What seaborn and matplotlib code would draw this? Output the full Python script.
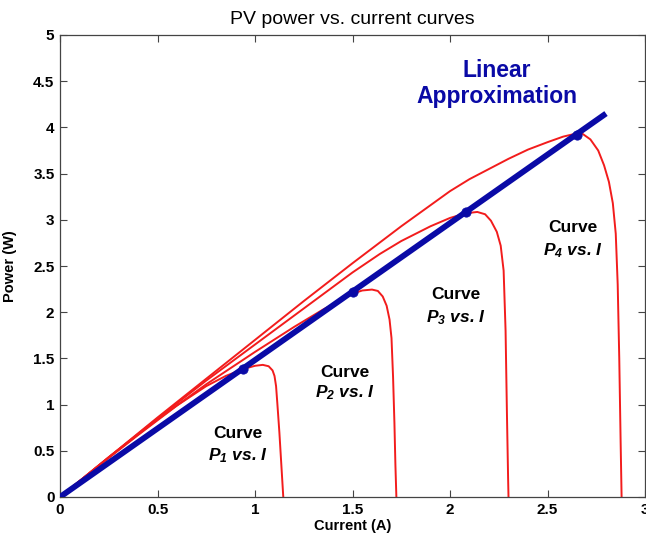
# plot.py
import matplotlib
matplotlib.use('Agg')
import matplotlib.pyplot as plt
import seaborn as sns

# values
current_p1 = [0, 0.2, 0.4, 0.6, 0.75, 0.85, 0.94, 1.0, 1.04, 1.07, 1.09, 1.10, 1.108, 1.115, 1.125, 1.135, 1.145]
power_p1 = [0, 0.34, 0.67, 0.99, 1.20, 1.31, 1.385, 1.42, 1.43, 1.415, 1.37, 1.31, 1.20, 1.00, 0.70, 0.35, 0]

current_p2 = [0, 0.25, 0.5, 0.75, 1.0, 1.2, 1.35, 1.45, 1.5, 1.55, 1.6, 1.63, 1.655, 1.675, 1.69, 1.70,
              1.708, 1.715, 1.72, 1.725]
power_p2 = [0, 0.43, 0.84, 1.22, 1.57, 1.84, 2.03, 2.14, 2.20, 2.235, 2.245, 2.23, 2.17, 2.07, 1.92, 1.72,
            1.30, 0.80, 0.35, 0]

current_p3 = [0, 0.25, 0.5, 0.75, 1.0, 1.25, 1.5, 1.64, 1.75, 1.9, 2.0, 2.08, 2.14, 2.18, 2.21, 2.24, 2.26,
              2.275, 2.285, 2.292, 2.298, 2.30]
power_p3 = [0, 0.43, 0.85, 1.26, 1.65, 2.04, 2.43, 2.63, 2.77, 2.93, 3.02, 3.07, 3.085, 3.06, 2.99, 2.87, 2.72,
            2.45, 1.80, 0.90, 0.20, 0]

current_p4 = [0, 0.25, 0.5, 0.75, 1.0, 1.25, 1.5, 1.75, 2.0, 2.1, 2.2, 2.3, 2.4, 2.5, 2.58, 2.64, 2.68, 2.72,
              2.76, 2.79, 2.815, 2.835, 2.85, 2.86, 2.868, 2.875, 2.88]
power_p4 = [0, 0.43, 0.86, 1.28, 1.70, 2.12, 2.53, 2.93, 3.31, 3.44, 3.55, 3.66, 3.76, 3.84, 3.90, 3.93, 3.93,
            3.87, 3.75, 3.59, 3.41, 3.18, 2.85, 2.30, 1.50, 0.60, 0]

linear_current = [0, 2.8]
linear_power = [0, 4.15]

mpp_current = [0.94, 1.5, 2.08, 2.65]
mpp_power = [1.39, 2.22, 3.08, 3.92]

x_ticks = [0, 0.5, 1, 1.5, 2, 2.5, 3]
x_tick_labels = ['0', '0.5', '1', '1.5', '2', '2.5', '3']
y_ticks = [0, 0.5, 1, 1.5, 2, 2.5, 3, 3.5, 4, 4.5, 5]
y_tick_labels = ['0', '0.5', '1', '1.5', '2', '2.5', '3', '3.5', '4', '4.5', '5']

curve_names = ['1', '2', '3', '4']

sns.set_theme(style='white')
plt.rcParams['font.family'] = ['Liberation Sans', 'DejaVu Sans']
plt.rcParams['text.color'] = 'black'
plt.rcParams['axes.labelcolor'] = 'black'
plt.rcParams['xtick.color'] = 'black'
plt.rcParams['ytick.color'] = 'black'
plt.rcParams['mathtext.fontset'] = 'custom'
plt.rcParams['mathtext.rm'] = 'Liberation Sans:italic:bold'
plt.rcParams['mathtext.it'] = 'Liberation Sans:italic:bold'
plt.rcParams['mathtext.bf'] = 'Liberation Sans:italic:bold'

RED = '#f21c1c'
BLUE = '#0a0aa6'

fig = plt.figure(figsize=(6.46, 5.37), dpi=100)
ax = fig.add_axes([60 / 646, 40 / 537, 585 / 646, 462 / 537])

for cur, pw in [(current_p1, power_p1), (current_p2, power_p2),
                (current_p3, power_p3), (current_p4, power_p4)]:
    sns.lineplot(x=cur, y=pw, ax=ax, color=RED, lw=1.4, sort=False, estimator=None, zorder=2)

sns.lineplot(x=linear_current, y=linear_power, ax=ax, color=BLUE, lw=4.2, sort=False,
             estimator=None, zorder=3, solid_capstyle='butt')
sns.scatterplot(x=mpp_current, y=mpp_power, ax=ax, color=BLUE, s=45, edgecolor=BLUE, zorder=4)

ax.set_xlim(0, 3)
ax.set_ylim(0, 5)
ax.set_xticks(x_ticks)
ax.set_xticklabels(x_tick_labels, fontsize=11, fontweight='bold')
ax.set_yticks(y_ticks)
ax.set_yticklabels(y_tick_labels, fontsize=11, fontweight='bold')
ax.tick_params(direction='in', length=5, width=0.8, color='#444444', top=True, right=True,
               bottom=True, left=True, pad=4)
for side in ['top', 'bottom', 'left', 'right']:
    ax.spines[side].set_color('#444444')
    ax.spines[side].set_linewidth(0.9)

ax.set_title('PV power vs. current curves', fontsize=14, pad=8)
ax.set_xlabel('Current (A)', fontsize=10.5, fontweight='bold', labelpad=2)
ax.set_ylabel('Power (W)', fontsize=10.5, fontweight='bold', labelpad=12)

# curve labels
label_pos = [(0.91, 0.69, 0.45), (1.46, 1.35, 1.13), (2.03, 2.19, 1.94), (2.63, 2.92, 2.67)]
for name, (lx, ly1, ly2) in zip(curve_names, label_pos):
    ax.text(lx, ly1, 'Curve', ha='center', va='center', fontsize=12.5, fontweight='bold')
    ax.text(lx, ly2, 'P$_{' + name + '}$ vs. I', ha='center', va='center', fontsize=12.5,
            fontweight='bold', fontstyle='italic')

ax.text(2.24, 4.62, 'Linear', ha='center', va='center', fontsize=16.5, fontweight='bold', color=BLUE)
ax.text(2.24, 4.33, 'Approximation', ha='center', va='center', fontsize=16.5, fontweight='bold', color=BLUE)

fig.savefig('out.png', dpi=100)
